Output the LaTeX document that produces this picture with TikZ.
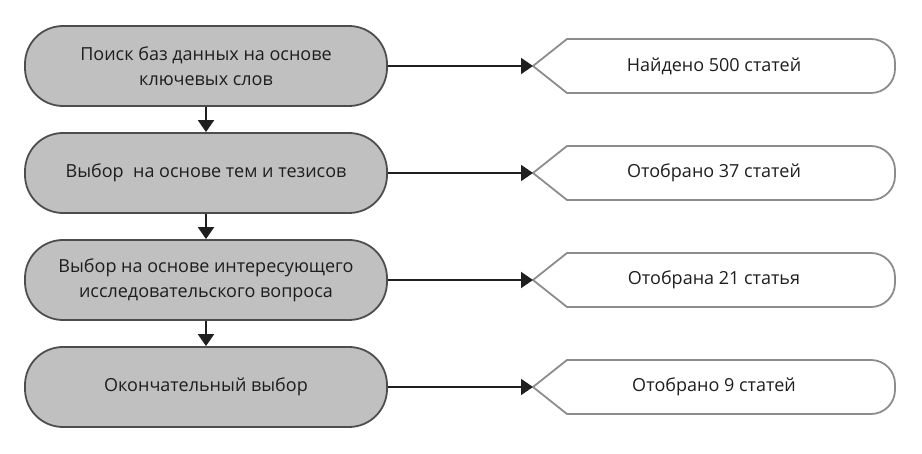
\documentclass[tikz,border=0pt]{standalone}
\usepackage{fontspec}
\setmainfont{Open Sans}
\usetikzlibrary{arrows.meta}
\definecolor{boxfill}{HTML}{C0C0C0}
\definecolor{boxline}{HTML}{4D4D4D}
\definecolor{resline}{HTML}{8C8C8C}
\definecolor{linec}{HTML}{1F1F1F}
\definecolor{textc}{HTML}{1E1E1E}
\begin{document}
\begin{tikzpicture}[x=1pt,y=-1pt,
  stepbox/.style={draw=boxline, line width=1.8pt, fill=boxfill, rounded corners=38pt,
    minimum width=362pt, minimum height=80pt, align=center, inner sep=0pt,
    font=\fontsize{18}{25}\selectfont, text=textc},
  resbox/.style={minimum width=362pt, minimum height=54pt, inner sep=0pt, outer sep=0pt,
    font=\fontsize{18}{25}\selectfont, text=textc},
  resshape/.style={draw=resline, line width=1.8pt, line join=round},
  conn/.style={line width=2pt, draw=linec, -{Triangle[length=12pt,width=16pt]}}
]
\useasboundingbox (0,0) rectangle (922,454);
\node[stepbox] (l1) at (206,66) {Поиск баз данных на основе\\ключевых слов};
\node[stepbox] (l2) at (206,173) {Выбор~ на основе тем и тезисов};
\node[stepbox] (l3) at (206,280) {Выбор на основе интересующего\\исследовательского вопроса};
\node[stepbox] (l4) at (206,387) {Окончательный выбор};
\node[resbox] (r1) at (714,66) {Найдено 500 статей};
\node[resbox] (r2) at (714,173) {Отобрано 37 статей};
\node[resbox] (r3) at (714,280) {Отобрана 21 статья};
\node[resbox] (r4) at (714,387) {Отобрано 9 статей};
\foreach \r in {r1,r2,r3,r4}{
  \draw[resshape] (\r.west) -- ([xshift=34pt]\r.north west)
    -- ([xshift=-24pt]\r.north east) arc[start angle=90,end angle=0,radius=24pt]
    -- ([yshift=24pt]\r.south east) arc[start angle=0,end angle=-90,radius=24pt]
    -- ([xshift=34pt]\r.south west) -- cycle;
}
\foreach \a/\b in {l1/r1,l2/r2,l3/r3,l4/r4}{
  \draw[conn] (\a.east) -- (\b.west);
}
\foreach \a/\b in {l1/l2,l2/l3,l3/l4}{
  \draw[conn] (\a.south) -- (\b.north);
}
\end{tikzpicture}
\end{document}
